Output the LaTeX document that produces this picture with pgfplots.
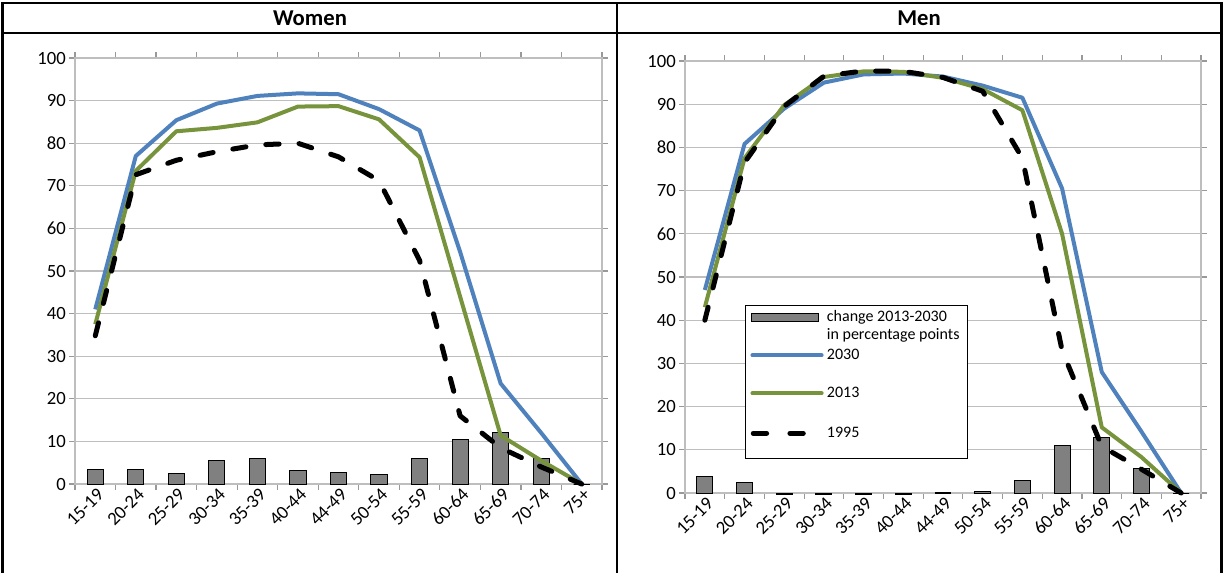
\documentclass[border=0pt]{standalone}
\usepackage{fontspec}
\setmainfont{Carlito}
\usepackage{pgfplots}
\usepackage{pgfplotstable}
\pgfplotsset{compat=1.18}
\definecolor{xblue}{RGB}{79,129,189}
\definecolor{xgreen}{RGB}{119,147,60}
\definecolor{xgrid}{RGB}{190,190,190}
\definecolor{xbar}{RGB}{128,128,128}

\pgfplotstableread{
x bar y2030 y2013 y1995
0 3.4 41.0 37.5 34.8
1 3.4 77.0 73.5 72.6
2 2.4 85.4 82.8 76.0
3 5.5 89.3 83.6 78.0
4 6.0 91.1 84.9 79.6
5 3.1 91.7 88.6 80.0
6 2.6 91.5 88.7 76.8
7 2.3 88.0 85.6 71.2
8 6.0 83.0 76.7 52.5
9 10.4 54.5 44.0 16.0
10 12.1 23.6 11.4 8.5
11 6.1 12.0 5.5 4.0
12 0 0 0 0
}\women

\pgfplotstableread{
x bar y2030 y2013 y1995
0 3.9 47.0 43.0 40.0
1 2.4 80.8 77.5 76.5
2 -0.3 89.0 89.8 89.5
3 -0.3 95.0 96.3 96.5
4 -0.3 96.9 97.6 97.7
5 -0.3 97.1 97.5 97.6
6 0.1 96.4 96.1 96.2
7 0.4 94.3 93.5 93.0
8 2.8 91.5 88.6 77.5
9 10.9 70.5 60.0 33.0
10 12.8 28.0 15.2 10.8
11 5.6 14.2 8.3 5.5
12 0 0 0 0
}\men

\pgfplotsset{
  chartstyle/.style={
    scale only axis,
    xmin=-0.5, xmax=12.5,
    ymin=0, ymax=100,
    ytick={0,10,...,100},
    minor ytick={0,10,...,100},
    xtick={0,...,12},
    xticklabels={15-19,20-24,25-29,30-34,35-39,40-44,44-49,50-54,55-59,60-64,65-69,70-74,75+},
    minor xtick={-0.5,0.5,...,12.5},
    ymajorgrids,
    grid style={draw=xgrid, line width=0.7pt},
    axis line style={draw=xgrid, line width=0.7pt},
    tick style={draw=gray!80, line width=0.7pt},
    tick align=outside,
    major tick length=0pt,
    minor tick length=3.5pt,
    /pgf/number format/assume math mode=true,
    ticklabel style={font=\fontsize{11.2}{13}\selectfont},
    yticklabel style={xshift=-2pt},
    xticklabel style={rotate=45, anchor=east, yshift=-5.5pt, xshift=2.5pt},
    clip=false,
  },
  barplot/.style={ybar, bar width=0.40, fill=xbar, draw=black, line width=0.6pt,
    legend image code/.code={\draw[fill=xbar, draw=black, line width=0.6pt] (0pt,3pt) rectangle (40pt,7.8pt);}},
  line2030/.style={xblue, line width=2.4pt, line join=round,
    legend image code/.code={\draw[xblue, line width=2.4pt, line cap=round] (0.5pt,0pt) -- (42pt,0pt);}},
  line2013/.style={xgreen, line width=2.4pt, line join=round,
    legend image code/.code={\path[draw=none] (0pt,-6.5pt) rectangle (0.1pt,16.9pt);\draw[xgreen, line width=2.4pt, line cap=round] (0.5pt,0pt) -- (42pt,0pt);}},
  line1995/.style={black, line width=3pt, line cap=round, line join=round, dash pattern=on 8pt off 12pt,
    legend image code/.code={\path[draw=none] (0pt,-14pt) rectangle (0.1pt,17.5pt);\draw[black, line width=3pt, line cap=round] (1pt,0pt) -- (11pt,0pt) (23pt,0pt) -- (33pt,0pt);}},
}

\begin{document}
\begin{tikzpicture}
\path[use as bounding box] (0,0) rectangle (733.8pt,-343.8pt);
\begin{scope}[x=0.6pt,y=-0.6pt]
  \draw[line width=1.6pt] (1,3) -- (1223,3);
  \draw[line width=0.9pt] (1,33) -- (1223,33);
  \draw[line width=1.6pt] (2.5,2) -- (2.5,573);
  \draw[line width=1.6pt] (617,2) -- (617,573);
  \draw[line width=1.6pt] (1221.5,2) -- (1221.5,573);
  \node[font=\fontsize{13.6}{15}\selectfont\bfseries] at (310,18.5) {Women};
  \node[font=\fontsize{13.6}{15}\selectfont\bfseries] at (919,18.5) {Men};
\end{scope}

\begin{axis}[chartstyle,
  at={(45pt,-290.4pt)}, anchor=south west,
  width=316.2pt, height=255.6pt]
\addplot[barplot] table[x=x,y=bar]{\women};
\addplot[line2030] table[x=x,y=y2030]{\women};
\addplot[line2013] table[x=x,y=y2013]{\women};
\addplot[line1995] table[x=x,y=y1995]{\women};
\end{axis}

\begin{axis}[chartstyle,
  at={(411pt,-295.8pt)}, anchor=south west,
  width=309.6pt, height=259.2pt,
  legend style={at={(0.116,0.435)}, anchor=north west, draw=black, line width=0.7pt,
    font=\fontsize{9.6}{10.8}\selectfont, inner xsep=3pt, inner ysep=1pt,
    cells={anchor=west, align=left}, row sep=0pt}]
\addplot[barplot] table[x=x,y=bar]{\men};
\addlegendentry{change 2013-2030\\in percentage points}
\addplot[line2030] table[x=x,y=y2030]{\men};
\addlegendentry{2030}
\addplot[line2013] table[x=x,y=y2013]{\men};
\addlegendentry{2013}
\addplot[line1995] table[x=x,y=y1995]{\men};
\addlegendentry{1995}
\end{axis}
\end{tikzpicture}
\end{document}
